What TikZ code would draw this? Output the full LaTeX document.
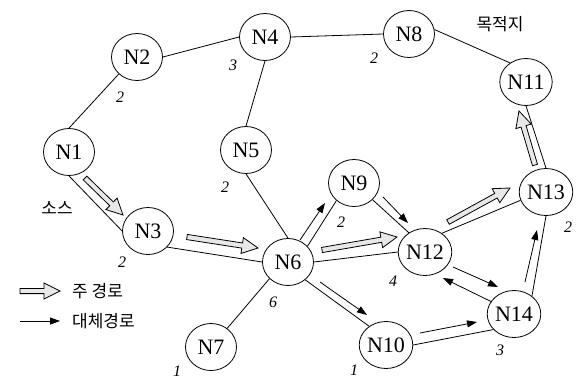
\documentclass[tikz,border=0pt]{standalone}
\usepackage{fontspec}
\setmainfont{Liberation Serif}
\newfontfamily\kr{Noto Sans CJK KR}
\usetikzlibrary{shapes.geometric,arrows.meta,calc,positioning}

\tikzset{
	nd/.style={ellipse,draw,line width=0.8pt,minimum width=51pt,minimum height=47pt,inner sep=0pt,font=\fontsize{22}{24}\selectfont},
	wt/.style={inner sep=0pt,font=\fontsize{16}{18}\selectfont\itshape},
	kor/.style={inner sep=0pt,font=\kr\fontsize{17}{20}\selectfont},
	lnk/.style={line width=0.8pt},
	altarr/.style={line width=0.8pt,-{Triangle[length=10pt,width=7pt]}},
	mainarr/.style={draw,line width=0.8pt,fill=gray!18,line join=miter},
}
\newcommand{\mainarrow}[2]{%
	\draw[mainarr] let \p1=($(#2)-(#1)$), \n1={atan2(\y1,\x1)} in
		($(#1)+(\n1+90:2.6pt)$)
		-- ($(#2)+(\n1+180:16pt)+(\n1+90:2.6pt)$)
		-- ($(#2)+(\n1+180:16pt)+(\n1+90:8pt)$)
		-- (#2)
		-- ($(#2)+(\n1+180:16pt)+(\n1-90:8pt)$)
		-- ($(#2)+(\n1+180:16pt)+(\n1-90:2.6pt)$)
		-- ($(#1)+(\n1-90:2.6pt)$) -- cycle;}

\begin{document}
\begin{tikzpicture}[x=1pt,y=-1pt]
	\useasboundingbox (0,0) rectangle (581,381);
	\node[nd] (n1) at (69,152) {N1};
	\node[nd] (n2) at (137,57) {N2};
	\node[nd] (n3) at (148,231) {N3};
	\node[nd] (n4) at (265,37) {N4};
	\node[nd] (n5) at (246,150) {N5};
	\node[nd] (n6) at (288,262) {N6};
	\node[nd] (n7) at (211,347) {N7};
	\node[nd] (n8) at (409,34) {N8};
	\node[nd] (n9) at (354,183) {N9};
	\node[nd] (n10) at (386,345) {N10};
	\node[nd] (n11) at (526,82) {N11};
	\node[nd] (n12) at (425,252) {N12};
	\node[nd] (n13) at (546,192) {N13};
	\node[nd] (n14) at (514,314) {N14};

	\node[wt] (w2) at (120,97) {2};
	\node[wt] (w4) at (233,65) {3};
	\node[wt] (w8) at (374,58) {2};
	\node[wt] (w5) at (225,187) {2};
	\node[wt] (w3) at (122,262) {2};
	\node[wt] (w6) at (273,302) {6};
	\node[wt] (w7) at (177,371) {1};
	\node[wt] (w9) at (341,222) {2};
	\node[wt] (w12) at (393,281) {4};
	\node[wt] (w13) at (568,227) {2};
	\node[wt] (w14) at (500,350) {3};
	\node[wt] (w10) at (354,370) {1};

	\node[kor] (dst) at (500,24) {목적지};
	\node[kor] (src) at (57,208) {소스};

	\draw[lnk] (n1.north) -- (n2.223);
	\draw[lnk] (n2.east) -- (n4.west);
	\draw[lnk] (n4.east) -- (n8.west);
	\draw[lnk] (n8.10) -- (n11.130);
	\draw[lnk] (n4.south) -- (n5.north);
	\draw[lnk] (n5.south) -- (n6.north);
	\draw[lnk] (n1.south) -- (n3.west);
	\draw[lnk] (n3.320) -- (n6.west);
	\draw[lnk] (n6.222) -- (n7.49);
	\draw[lnk] (n6.39) -- (n9.225);
	\draw[lnk] (n6.east) -- (n12.west);
	\draw[lnk] (n6.314) -- (n10.132);
	\draw[lnk] (n9.318) -- (n12.130);
	\draw[lnk] (n12.48) -- (n13.198);
	\draw[lnk] (n13.south) -- (n14.45);
	\draw[lnk] (n13.north) -- (n11.south);
	\draw[lnk] (n10.east) -- (n14.217);

	\coordinate (m1s) at (85,178);   \coordinate (m1e) at (123,215);
	\coordinate (m2s) at (187,237);  \coordinate (m2e) at (258,248);
	\coordinate (m3s) at (322,250);  \coordinate (m3e) at (397,237);
	\coordinate (m4s) at (448,222);  \coordinate (m4e) at (510,188);
	\coordinate (m5s) at (535,165);  \coordinate (m5e) at (519,111);
	\mainarrow{m1s}{m1e}
	\mainarrow{m2s}{m2e}
	\mainarrow{m3s}{m3e}
	\mainarrow{m4s}{m4e}
	\mainarrow{m5s}{m5e}

	\coordinate (a1s) at (300,240);  \coordinate (a1e) at (325,203);
	\coordinate (a2s) at (383,197);  \coordinate (a2e) at (408,223);
	\coordinate (a3s) at (320,282);  \coordinate (a3e) at (367,315);
	\coordinate (a4s) at (420,333);  \coordinate (a4e) at (477,322);
	\coordinate (a5s) at (453,267);  \coordinate (a5e) at (498,287);
	\coordinate (a6s) at (492,302);  \coordinate (a6e) at (443,278);
	\coordinate (a7s) at (525,282);  \coordinate (a7e) at (537,230);
	\draw[altarr] (a1s) -- (a1e);
	\draw[altarr] (a2s) -- (a2e);
	\draw[altarr] (a3s) -- (a3e);
	\draw[altarr] (a4s) -- (a4e);
	\draw[altarr] (a5s) -- (a5e);
	\draw[altarr] (a6s) -- (a6e);
	\draw[altarr] (a7s) -- (a7e);

	\coordinate (lg1s) at (20,291);  \coordinate (lg1e) at (60,291);
	\coordinate (lg2s) at (20,321);  \coordinate (lg2e) at (60,321);
	\mainarrow{lg1s}{lg1e}
	\draw[altarr] (lg2s) -- (lg2e);
	\node[kor,right=12pt of lg1e] (lg1) {주 경로};
	\node[kor,right=12pt of lg2e] (lg2) {대체경로};
\end{tikzpicture}
\end{document}
